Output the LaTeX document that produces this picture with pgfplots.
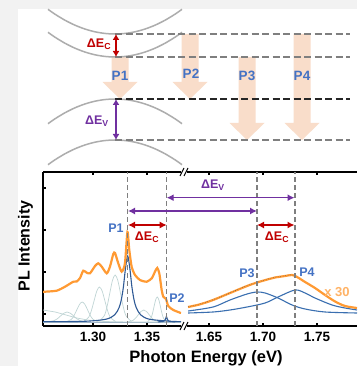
\documentclass[border=0pt]{standalone}
\usepackage{fontspec}
\setmainfont{Liberation Sans}
\usepackage{pgfplots}
\pgfplotsset{compat=1.18}
\usetikzlibrary{arrows.meta}
\definecolor{bgray}{HTML}{F2F2F2}
\definecolor{porange}{HTML}{FF9A33}
\definecolor{lorange}{HTML}{FFB366}
\definecolor{pblue}{HTML}{4472C4}
\definecolor{dblue}{HTML}{2F5A96}
\definecolor{mblue}{HTML}{3A6FB0}
\definecolor{pred}{HTML}{C00000}
\definecolor{ppurple}{HTML}{7030A0}
\definecolor{peach}{HTML}{F9DDCA}
\definecolor{tealc}{HTML}{C0D5D5}
\definecolor{basec}{HTML}{9FB4C6}
\definecolor{bandgray}{HTML}{ADADAD}
\definecolor{dgray}{HTML}{7F7F7F}
\newcommand{\fs}[1]{\fontsize{#1}{#1}\selectfont}
\newcommand{\dE}[1]{ΔE\textsubscript{#1}}
\begin{document}
\begin{tikzpicture}
\useasboundingbox (0,0) rectangle (357pt,366pt);
\fill[bgray] (0,0) rectangle (357pt,366pt);
\fill[white] (18pt,0) rectangle (357pt,357pt);

% ---------------- left panel
\begin{axis}[at={(43pt,40pt)}, anchor=south west, scale only axis,
  width=138pt, height=154pt, xmin=1.2537, xmax=1.3815, ymin=0, ymax=154,
  axis x line*=box, axis y line*=left,
  xtick={1.30,1.35}, xticklabels={1.30,1.35},
  ytick={12,54,96,138}, yticklabels={},
  tick align=inside, major tick length=3pt,
  axis line style={line width=1.6pt},
  tick style={line width=1.2pt, black},
  xticklabel style={font=\bfseries\fs{13.5}, yshift=-3pt}]
\addplot[basec, line width=1.6pt] coordinates {(1.2537,3.5) (1.3815,3.5)};
\addplot[tealc, line width=0.7pt] coordinates {(1.2537,16) (1.265,14) (1.275,11) (1.285,8) (1.295,6) (1.31,4.5) (1.33,4.1) (1.3815,4)};
\addplot[tealc, line width=0.7pt, smooth] coordinates {(1.258,4.1) (1.264,5.4) (1.267,7.2) (1.270,10.1) (1.273,12.8) (1.276,14) (1.279,12.8) (1.282,10.1) (1.285,7.2) (1.288,5.4) (1.294,4.1)};
\addplot[tealc, line width=0.7pt, smooth] coordinates {(1.275,4.2) (1.280,6.7) (1.2825,10.5) (1.285,16.1) (1.2875,21.6) (1.290,24) (1.2925,21.6) (1.295,16.1) (1.2975,10.5) (1.300,6.7) (1.305,4.2)};
\addplot[tealc, line width=0.7pt, smooth] coordinates {(1.291,4.4) (1.296,8.7) (1.2985,15.4) (1.301,25.2) (1.3035,34.9) (1.306,39) (1.3085,34.9) (1.311,25.2) (1.3135,15.4) (1.316,8.7) (1.321,4.4)};
\addplot[tealc, line width=0.7pt, smooth] coordinates {(1.3055,4.5) (1.3105,10.4) (1.313,19.3) (1.3155,32.5) (1.318,45.5) (1.3205,51) (1.323,45.5) (1.3255,32.5) (1.328,19.3) (1.3305,10.4) (1.3355,4.5)};
\addplot[tealc, line width=0.7pt, smooth] coordinates {(1.332,4.1) (1.337,5.6) (1.3395,7.9) (1.342,11.3) (1.3445,14.6) (1.347,16) (1.3495,14.6) (1.352,11.3) (1.3545,7.9) (1.357,5.6) (1.362,4.1)};
\addplot[tealc, line width=0.7pt, smooth] coordinates {(1.3505,4.3) (1.3535,7.4) (1.355,12.1) (1.3565,19.2) (1.358,26.1) (1.3595,29) (1.361,26.1) (1.3625,19.2) (1.364,12.1) (1.3655,7.4) (1.3685,4.3)};
\addplot[dblue, line width=1.1pt, smooth] coordinates {(1.2537,4.3) (1.2921,4.7) (1.3121,6.8) (1.3201,11.2) (1.3241,18.3) (1.3261,25.7) (1.3281,38.6) (1.3301,57.8) (1.3321,70) (1.3341,57.8) (1.3361,38.6) (1.3381,25.7) (1.3401,18.3) (1.3441,11.2) (1.3521,6.8) (1.3721,4.7) (1.3815,4.4)};
\addplot[dblue, line width=1.1pt, smooth] coordinates {(1.3600,4.1) (1.3650,4.6) (1.3665,5.5) (1.3672,7) (1.3680,9.5) (1.3688,7) (1.3695,5.5) (1.3710,4.6) (1.3760,4.1)};
\addplot[porange, line width=2.2pt, smooth, tension=0.4] coordinates {(1.2537,34) (1.2556,34.3) (1.2664,35.3) (1.2741,39.3) (1.2818,44.3) (1.2849,44.5) (1.2880,48) (1.2910,55.3) (1.2942,53.3) (1.2972,52.7) (1.3019,60) (1.3049,62.7) (1.3081,59.3) (1.3127,52.7) (1.3157,59.3) (1.3188,72) (1.3204,73) (1.3234,62.7) (1.3266,54.3) (1.3296,62.7) (1.3319,94) (1.3336,76) (1.3358,59.3) (1.3389,51) (1.3435,46) (1.3497,44.3) (1.3544,47.7) (1.3574,54.3) (1.3595,58) (1.3614,52.7) (1.3636,36) (1.3651,29.3) (1.3676,27) (1.3697,20) (1.3744,16) (1.3806,13.3) (1.3815,13)};
\draw[dgray, line width=1.1pt, dash pattern=on 5pt off 3pt] (axis cs:1.3321,0) -- (axis cs:1.3321,154);
\draw[dgray, line width=1.1pt, dash pattern=on 5pt off 3pt] (axis cs:1.3682,0) -- (axis cs:1.3682,154);
\end{axis}

% ---------------- right panel
\begin{axis}[at={(187pt,40pt)}, anchor=south west, scale only axis,
  width=170pt, height=154pt, xmin=1.6296, xmax=1.787, ymin=0, ymax=154,
  axis x line*=box, axis y line=none,
  xtick={1.65,1.70,1.75}, xticklabels={1.65,1.70,1.75},
  ytick=\empty,
  tick align=inside, major tick length=3pt,
  axis line style={line width=1.6pt},
  tick style={line width=1.2pt, black},
  xticklabel style={font=\bfseries\fs{13.5}, yshift=-3pt}]
\addplot[mblue, line width=1.1pt, smooth] coordinates {(1.6306,15) (1.6537,19) (1.6694,26) (1.6852,32) (1.6944,34) (1.7019,33) (1.7139,28) (1.7269,21) (1.7389,17) (1.7574,14) (1.787,13)};
\addplot[mblue, line width=1.1pt, smooth] coordinates {(1.6306,13) (1.6537,14) (1.6694,16) (1.6852,19) (1.7019,23) (1.7139,29) (1.7296,36) (1.7389,33) (1.7481,28) (1.7639,21) (1.7759,18) (1.787,16)};
\addplot[porange, line width=2.2pt, smooth] coordinates {(1.6306,19) (1.641,21.5) (1.6537,26) (1.6694,33) (1.6852,40) (1.6944,43.5) (1.7056,47) (1.7111,48.5) (1.7204,50) (1.7269,51) (1.7315,49) (1.7389,44) (1.7481,38) (1.7574,31) (1.7667,24.5) (1.7759,20) (1.787,18)};
\addplot[black!70, line width=0.5pt, dotted, smooth] coordinates {(1.6306,19.2) (1.641,21.7) (1.6537,26.2) (1.6694,33.2) (1.6852,40.2) (1.6944,43.7) (1.7056,47.2) (1.7111,48.7) (1.7204,50.2) (1.7269,51.2) (1.7315,49.2)};
\draw[dgray, line width=1.1pt, dash pattern=on 5pt off 3pt] (axis cs:1.6944,0) -- (axis cs:1.6944,154);
\draw[dgray, line width=1.1pt, dash pattern=on 5pt off 3pt] (axis cs:1.7296,0) -- (axis cs:1.7296,154);
\end{axis}

% ---------------- overlay: schematic and annotations (pixel coordinates)
\begin{axis}[at={(0pt,0pt)}, anchor=south west, scale only axis,
  width=357pt, height=366pt, xmin=0, xmax=357, ymin=0, ymax=366,
  y dir=reverse, axis lines=none, clip=false]
% peach transition arrows
\fill[peach] (axis cs:111.5,57) -- (axis cs:128.5,57) -- (axis cs:128.5,82) -- (axis cs:137.5,82) -- (axis cs:120,99) -- (axis cs:102.5,82) -- (axis cs:111.5,82) -- cycle;
\fill[peach] (axis cs:181.5,34) -- (axis cs:198.5,34) -- (axis cs:198.5,82) -- (axis cs:207.5,82) -- (axis cs:190,99) -- (axis cs:172.5,82) -- (axis cs:181.5,82) -- cycle;
\fill[peach] (axis cs:238.5,57) -- (axis cs:255.5,57) -- (axis cs:255.5,123) -- (axis cs:264.5,123) -- (axis cs:247,140) -- (axis cs:229.5,123) -- (axis cs:238.5,123) -- cycle;
\fill[peach] (axis cs:293.5,34) -- (axis cs:310.5,34) -- (axis cs:310.5,123) -- (axis cs:319.5,123) -- (axis cs:302,140) -- (axis cs:284.5,123) -- (axis cs:293.5,123) -- cycle;
% bands
\addplot[bandgray, line width=1.5pt, smooth] coordinates {(48,9.3) (55,14.2) (65,20.25) (75,25.2) (85,29.05) (95,31.8) (105,33.45) (115,34) (125,33.45) (135,31.8) (145,29.05) (155,25.2) (165,20.25) (175,14.2) (182,9.3)};
\addplot[bandgray, line width=1.5pt, smooth] coordinates {(48,32.3) (55,37.2) (65,43.25) (75,48.2) (85,52.05) (95,54.8) (105,56.45) (115,57) (125,56.45) (135,54.8) (145,52.05) (155,48.2) (165,43.25) (175,37.2) (182,32.3)};
\addplot[bandgray, line width=1.5pt, smooth] coordinates {(48,123.7) (55,118.8) (65,112.75) (75,107.8) (85,103.95) (95,101.2) (105,99.55) (115,99) (125,99.55) (135,101.2) (145,103.95) (155,107.8) (165,112.75) (175,118.8) (182,123.7)};
\addplot[bandgray, line width=1.5pt, smooth] coordinates {(48,164.7) (55,159.8) (65,153.75) (75,148.8) (85,144.95) (95,142.2) (105,140.55) (115,140) (125,140.55) (135,142.2) (145,144.95) (155,148.8) (165,153.75) (175,159.8) (182,164.7)};
% level lines
\draw[dgray, line width=1.2pt, dash pattern=on 7pt off 3.5pt] (axis cs:115,34) -- (axis cs:350,34);
\draw[dgray, line width=1.2pt, dash pattern=on 7pt off 3.5pt] (axis cs:115,57) -- (axis cs:350,57);
\draw[black!85, line width=1.2pt, dash pattern=on 7pt off 3.5pt] (axis cs:115,99) -- (axis cs:350,99);
\draw[dgray, line width=1.2pt, dash pattern=on 7pt off 3.5pt] (axis cs:115,140) -- (axis cs:350,140);
% band offset arrows
\draw[pred, line width=1.2pt, {Latex[length=6pt,width=7pt]}-{Latex[length=6pt,width=7pt]}] (axis cs:116,34) -- (axis cs:116,57);
\draw[ppurple, line width=1.2pt, {Latex[length=6pt,width=7pt]}-{Latex[length=6pt,width=7pt]}] (axis cs:116,99) -- (axis cs:116,140);
\node[pred, font=\bfseries\fs{12.5}] at (axis cs:99,44) {\dE{C}};
\node[ppurple, font=\bfseries\fs{12.5}] at (axis cs:97,121) {\dE{V}};
\node[pblue, font=\bfseries\fs{13.5}] at (axis cs:120,76) {P1};
\node[pblue, font=\bfseries\fs{13.5}] at (axis cs:191,74) {P2};
\node[pblue, font=\bfseries\fs{13.5}] at (axis cs:247,76) {P3};
\node[pblue, font=\bfseries\fs{13.5}] at (axis cs:302,76) {P4};
% axis break marks
\draw[black, line width=1pt] (axis cs:180,176) -- (axis cs:184,168);
\draw[black, line width=1pt] (axis cs:184,176) -- (axis cs:188,168);
\draw[black, line width=1pt] (axis cs:180,330) -- (axis cs:184,322);
\draw[black, line width=1pt] (axis cs:184,330) -- (axis cs:188,322);
% energy difference arrows in the spectrum
\draw[ppurple, line width=1.3pt, {Latex[length=7pt,width=7pt]}-{Latex[length=7pt,width=7pt]}] (axis cs:166.7,197.7) -- (axis cs:294.5,197.7);
\draw[ppurple, line width=1.3pt, {Latex[length=7pt,width=7pt]}-{Latex[length=7pt,width=7pt]}] (axis cs:128,211) -- (axis cs:257,211);
\draw[pred, line width=1.3pt, {Latex[length=7pt,width=7pt]}-{Latex[length=7pt,width=7pt]}] (axis cs:128,225) -- (axis cs:166.7,225);
\draw[pred, line width=1.3pt, {Latex[length=7pt,width=7pt]}-{Latex[length=7pt,width=7pt]}] (axis cs:257,225) -- (axis cs:294.5,225);
\node[ppurple, font=\bfseries\fs{12.5}] at (axis cs:213,185) {\dE{V}};
\node[pred, font=\bfseries\fs{12.5}] at (axis cs:147,237) {\dE{C}};
\node[pred, font=\bfseries\fs{12.5}] at (axis cs:277,237) {\dE{C}};
\node[pblue, font=\bfseries\fs{12.5}] at (axis cs:116,228) {P1};
\node[pblue, font=\bfseries\fs{12.5}] at (axis cs:177,298) {P2};
\node[pblue, font=\bfseries\fs{12.5}] at (axis cs:247,273) {P3};
\node[pblue, font=\bfseries\fs{12.5}] at (axis cs:307,272) {P4};
\node[lorange, font=\bfseries\fs{13}] at (axis cs:337,292) {x 30};
% axis titles
\node[font=\bfseries\fs{16}, rotate=90, anchor=base] at (axis cs:29.5,246) {PL Intensity};
\node[font=\bfseries\fs{16.5}, anchor=base] at (axis cs:206,362) {Photon Energy (eV)};
\end{axis}
\end{tikzpicture}
\end{document}
